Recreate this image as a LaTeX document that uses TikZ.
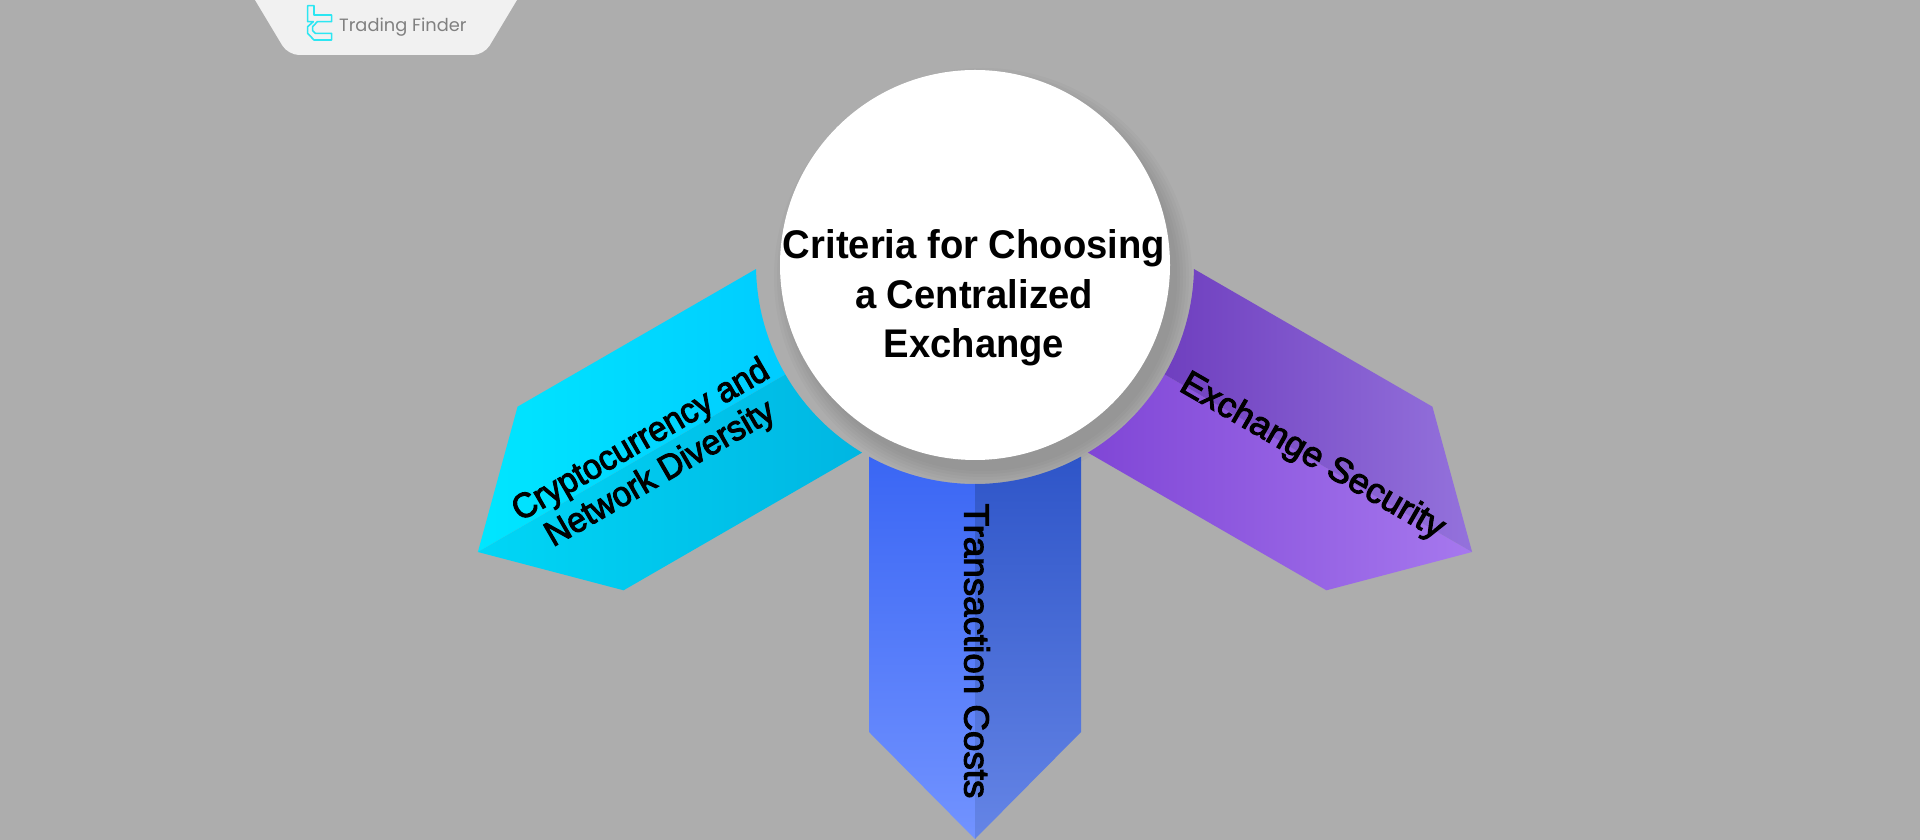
\documentclass[tikz,border=0pt]{standalone}
\usepackage{fontspec}
\setmainfont{Liberation Sans}
\newfontfamily\labelfont{Liberation Sans}[FakeBold=3]
\newfontfamily\logofont{Poppins}
\usetikzlibrary{calc,positioning}
\definecolor{bggray}{HTML}{ADADAD}
\definecolor{tabgray}{HTML}{F1F1F1}
\definecolor{logocyan}{HTML}{2CE6F2}
\definecolor{cyanL}{HTML}{00E6FF}
\definecolor{cyanR}{HTML}{00CCFF}
\definecolor{cyanDL}{HTML}{00D6F6}
\definecolor{cyanDR}{HTML}{00B6E2}
\definecolor{blueL}{HTML}{3A66F4}
\definecolor{blueR}{HTML}{7293FF}
\definecolor{blueDL}{HTML}{2E55C8}
\definecolor{blueDR}{HTML}{6585E6}
\definecolor{violetL}{HTML}{8046D6}
\definecolor{violetR}{HTML}{A678EE}
\definecolor{violetDL}{HTML}{6F3FBF}
\definecolor{violetDR}{HTML}{9472DC}
\tikzset{%
  hub/.style={circle,fill=white,minimum size=390pt,inner sep=0pt},
  title/.style={align=center,font=\fontsize{40}{49.5}\selectfont\bfseries,text=black,transform shape,xscale=.955},
  label/.style={align=center,font=\labelfont\fontsize{35}{38.5}\selectfont,text=black,transform shape},
  cyanlt/.style={left color=cyanL,right color=cyanR},
  cyandk/.style={left color=cyanDL,right color=cyanDR},
  bluelt/.style={top color=blueL,bottom color=blueR},
  bluedk/.style={top color=blueDL,bottom color=blueDR},
  violetlt/.style={left color=violetL,right color=violetR},
  violetdk/.style={left color=violetDL,right color=violetDR},
}
\begin{document}
\begin{tikzpicture}[x=1pt,y=1pt]
	\useasboundingbox (0,0) rectangle (1920,840);
	\fill[bggray] (0,0) rectangle (1920,840);

	% soft shadow of the hub
	\foreach \r in {194,197,...,209} {
		\fill[black,opacity=.02] (983,563) circle (\r);
	}

	% the three arrows, each one two halves around its axis
	\foreach \ang/\lt/\dk in {210/cyanlt/cyandk,270/bluelt/bluedk,330/violetlt/violetdk} {
		\begin{scope}[shift={(975,575)},rotate=\ang]
			\shade[\lt] (219,0) arc[start angle=0,end angle=-28.95,radius=219] -- (467,-106) -- (574,0) -- cycle;
			\shade[\dk] (219,0) arc[start angle=0,end angle=28.95,radius=219] -- (467,106) -- (574,0) -- cycle;
		\end{scope}
	}

	\node[hub] (hub) at (975,575) {};
	\node[title] (hubtext) at (974,542) {Criteria for Choosing\\a Centralized\\Exchange};
	\node[label,rotate=30,xscale=.95] (diversity) at (651,382) {Cryptocurrency and\\Network Diversity};
	\node[label,rotate=-90,xscale=1.05] (costs) at (977,189) {Transaction Costs};
	\node[label,rotate=-30,xscale=1.025] (security) at (1312,383) {Exchange Security};

	% logo tab
	\fill[tabgray,rounded corners=11pt] (255,840) -- (288,785) -- (484,785) -- (517,840);
	\begin{scope}[shift={(240,840)},xscale=1/3,yscale=-1/3]
		\draw[logocyan,line width=1.6pt,line join=round]
			(203,17) -- (222,17) -- (222,45) -- (275,45) -- (275,65) -- (232,65) -- (218,80) -- (218,92)
			-- (226,100) -- (275,100) -- (275,120) -- (222,120) -- (203,100) -- (203,80) -- (220,65) -- (203,65) -- cycle;
	\end{scope}
	\node[anchor=base west,inner sep=0pt,text=black!50,font=\logofont\fontsize{17.8}{18}\selectfont] (brand) at (339,808.5) {Trading Finder};
\end{tikzpicture}
\end{document}
